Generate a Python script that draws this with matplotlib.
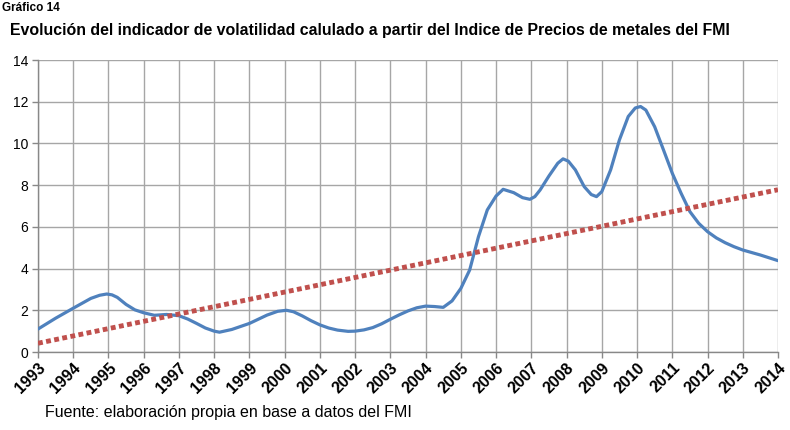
import matplotlib
matplotlib.use("Agg")
import matplotlib.pyplot as plt

plt.rcParams['font.family'] = ['Liberation Sans', 'DejaVu Sans']

# Data
years = list(range(1993, 2015))
year_labels = [str(y) for y in years]

vol_x = [1993.0, 1993.5, 1994.0, 1994.5, 1994.75, 1994.95, 1995.1, 1995.25, 1995.5, 1995.75,
         1996.0, 1996.3, 1996.65, 1997.0, 1997.25, 1997.5, 1997.75, 1998.0, 1998.15, 1998.5,
         1999.0, 1999.5, 1999.8, 2000.05, 2000.25, 2000.5, 2000.75, 2001.0, 2001.25, 2001.5,
         2001.8, 2002.0, 2002.25, 2002.5, 2002.75, 2003.0, 2003.25, 2003.5, 2003.75, 2004.0,
         2004.25, 2004.5, 2004.75, 2005.0, 2005.25, 2005.5, 2005.75, 2006.0, 2006.2, 2006.5,
         2006.75, 2006.96, 2007.1, 2007.25, 2007.5, 2007.75, 2007.9, 2008.05, 2008.25, 2008.5,
         2008.7, 2008.85, 2009.0, 2009.25, 2009.5, 2009.75, 2009.95, 2010.1, 2010.25, 2010.5,
         2010.75, 2011.0, 2011.25, 2011.5, 2011.75, 2012.0, 2012.25, 2012.5, 2012.75, 2013.0,
         2013.5, 2014.0]
vol_y = [1.1, 1.62, 2.1, 2.57, 2.72, 2.78, 2.74, 2.62, 2.28, 2.02,
         1.88, 1.76, 1.8, 1.74, 1.58, 1.37, 1.15, 1.0, 0.95, 1.08,
         1.37, 1.77, 1.95, 2.0, 1.93, 1.73, 1.5, 1.3, 1.15, 1.05,
         0.99, 1.0, 1.06, 1.17, 1.35, 1.57, 1.78, 1.97, 2.12, 2.2,
         2.18, 2.14, 2.45, 3.05, 3.93, 5.53, 6.81, 7.48, 7.8, 7.64,
         7.4, 7.32, 7.45, 7.77, 8.44, 9.05, 9.26, 9.15, 8.73, 7.93,
         7.55, 7.45, 7.69, 8.73, 10.17, 11.29, 11.7, 11.77, 11.6, 10.8,
         9.69, 8.57, 7.61, 6.73, 6.17, 5.77, 5.47, 5.24, 5.05, 4.89,
         4.65, 4.38]

trend_x = [1993, 2014]
trend_y = [0.42, 7.78]

fig = plt.figure(figsize=(7.9, 4.3), dpi=100)
ax = fig.add_axes([38/790, 1-352/430, 740/790, 292/430])

ax.plot(vol_x, vol_y, color='#4F81BD', lw=2.3, solid_capstyle='round',
        solid_joinstyle='round', zorder=3)
ax.plot(trend_x, trend_y, color='#C0504D', lw=3.5, linestyle=(0, (1.0, 0.7)),
        dash_capstyle='butt', zorder=4)

ax.set_xlim(1993, 2014)
ax.set_ylim(0, 14)
ax.set_xticks(years)
ax.set_xticklabels(year_labels, rotation=45, ha='right', va='top',
                   rotation_mode='anchor', fontsize=11.5, fontweight='bold')
ax.set_yticks(range(0, 15, 2))
ax.set_yticklabels([str(v) for v in range(0, 15, 2)], fontsize=10)
ax.tick_params(axis='both', direction='out', length=4, color='#888888', width=1)
ax.tick_params(axis='x', pad=2)
ax.tick_params(axis='y', pad=3)
ax.grid(True, color='#A6A6A6', lw=1.0, zorder=0)
ax.set_axisbelow(True)
for side in ['top', 'right']:
    ax.spines[side].set_visible(False)
for side in ['left', 'bottom']:
    ax.spines[side].set_color('#888888')
    ax.spines[side].set_linewidth(1.0)

fig.text(2/790, 1-8/430, 'Gráfico 14', fontsize=8.5, fontweight='bold', va='center', ha='left')
fig.text(10/790, 1-30/430, 'Evolución del indicador de volatilidad calulado a partir del Indice de Precios de metales del FMI',
         fontsize=11.45, fontweight='bold', va='center', ha='left')
fig.text(45/790, 1-413/430, 'Fuente: elaboración propia en base a datos del FMI',
         fontsize=11.5, va='center', ha='left')

fig.savefig('out.png', dpi=100)
